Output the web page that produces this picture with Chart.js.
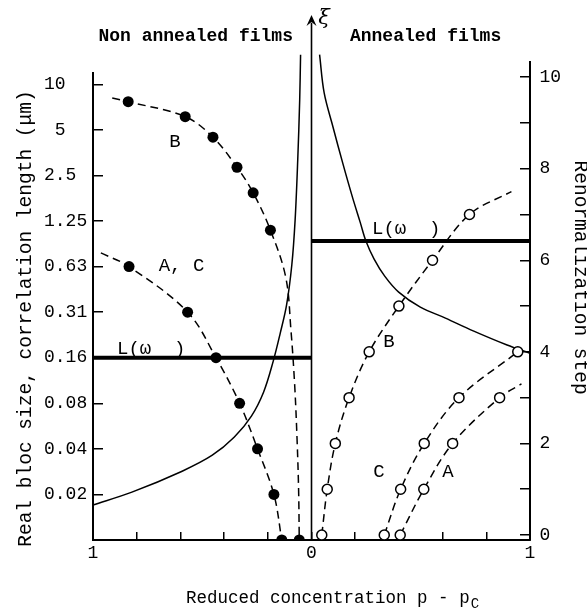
<!DOCTYPE html>
<html>
<head>
<meta charset="utf-8">
<script src="https://cdn.jsdelivr.net/npm/chart.js@4.4.1/dist/chart.umd.min.js"></script>
<style>
  html, body { margin: 0; padding: 0; background: #ffffff; }
  #wrap { width: 587px; height: 613px; }
</style>
</head>
<body>
<div id="wrap"><canvas id="c" width="587" height="613"></canvas></div>
<script>
// ---------- axes / ticks ----------
// x = reduced concentration p - pc (negative side = non annealed films, labelled by |p - pc|)
const xTickValues = [-1, -0.8, -0.6, -0.4, -0.2, 0, 0.2, 0.4, 0.6, 0.8, 1];
const xTickLabels = ['1', '', '', '', '', '0', '', '', '', '', '1'];
// left axis: renormalization step shown as real bloc size (µm)
const leftTickValues = [0, 1, 2, 3, 4, 5, 6, 7, 8, 9, 10];
const leftTickLabels = ['', '0.02', '0.04', '0.08', '0.16', '0.31', '0.63', '1.25', '2.5 ', '5  ', '10  '];
// right axis: renormalization step
const rightTickValues = [0, 1, 2, 3, 4, 5, 6, 7, 8, 9, 10];
const rightTickLabels = ['0', '', '2', '', '4', '', '6', '', '8', '', '10'];

// ---------- non annealed films (left axis, steps) ----------
const nonAnnealedB  = [[-0.839, 9.62], [-0.578, 9.29], [-0.451, 8.84], [-0.341, 8.18], [-0.267, 7.62], [-0.188, 6.80], [-0.056, 0]];
const nonAnnealedAC = [[-0.835, 6], [-0.567, 5], [-0.437, 4], [-0.329, 3], [-0.247, 2], [-0.172, 1], [-0.136, 0]];
const nonAnnealedBStart  = [[-0.912, 9.70]];
const nonAnnealedBTail   = [[-0.118, 5.77], [-0.094, 4.60], [-0.077, 3.40], [-0.066, 2.20], [-0.059, 1.10]];
const nonAnnealedACStart = [[-0.964, 6.30]];
// correlation length xi, non annealed side
const xiNonAnnealed = [[-1.0, 0.77], [-0.822, 1.05], [-0.592, 1.51], [-0.454, 1.86], [-0.353, 2.26], [-0.275, 2.72],
                       [-0.219, 3.25], [-0.176, 3.91], [-0.143, 4.54], [-0.114, 5.16], [-0.090, 6.04], [-0.075, 7.02],
                       [-0.063, 8.34], [-0.054, 9.66], [-0.050, 10.65]];
// length L(omega), non annealed
const lengthNonAnnealed = [[-1, 4], [0, 4]];

// ---------- annealed films (right axis, steps) ----------
const annealedB = [[0.047, 0], [0.072, 1], [0.109, 2], [0.172, 3], [0.264, 4], [0.40, 5], [0.554, 6], [0.723, 7]];
const annealedC = [[0.333, 0], [0.408, 1], [0.516, 2], [0.675, 3], [0.944, 4]];
const annealedA = [[0.406, 0], [0.514, 1], [0.646, 2], [0.861, 3]];
const annealedBEnd = [[0.915, 7.5]];
const annealedAEnd = [[0.961, 3.3]];
// correlation length xi, annealed side (left axis units)
const xiAnnealed = [[0.037, 10.65], [0.058, 9.81], [0.098, 9.07], [0.143, 8.27], [0.187, 7.53], [0.223, 6.97],
                    [0.249, 6.56], [0.286, 6.17], [0.335, 5.79], [0.399, 5.44], [0.498, 5.11], [0.613, 4.87],
                    [0.740, 4.59], [0.895, 4.28], [1.0, 4.10]];
const lengthAnnealed = [[0, 6.56], [1, 6.56]];

// frame: left axis line (starts a little below the top), xi axis at p = pc and its arrow tip
const leftAxisLine = [[-1, 0], [-1, 10.27]];
const xiAxis = [[0, 0], [0, 11.35]];
const xiArrowTip = [0, 11.52];

// ---------- text annotations (data coordinates) ----------
const textMarks = [
  { text: 'B',      x: -0.625, y: 8.74, align: 'center' },
  { text: 'A, C',   x: -0.595, y: 6.01, align: 'center' },
  { text: 'L(ω  )', x: -0.89,  y: 4.19, align: 'left' },
  { text: 'L(ω  )', x: 0.277,  y: 6.83, align: 'left' },
  { text: 'B',      x: 0.355,  y: 4.35, align: 'center' },
  { text: 'C',      x: 0.309,  y: 1.49, align: 'center' },
  { text: 'A',      x: 0.625,  y: 1.49, align: 'center' }
];
const headerMarks = [
  { text: 'Non annealed films', x: -0.085, y: 10.95, align: 'right' },
  { text: 'Annealed films',     x: 0.176,  y: 10.95, align: 'left' }
];
const xiLabel = { text: 'ξ', x: 0.057, y: 11.44 };
const xTitle = { text: 'Reduced concentration p - p', sub: 'C', x: -0.574, y: -1.383 };
const yTitle = 'Real bloc size, correlation length (μm)';
const y2Title = 'Renormalization step';

const P = a => a.map(([x, y]) => ({ x, y }));
const MONO = '"Liberation Mono", "DejaVu Sans Mono", monospace';

const annotations = {
  id: 'annotations',
  afterDraw(chart) {
    const { ctx } = chart;
    const xs = chart.scales.x, ys = chart.scales.y;
    ctx.save();
    ctx.fillStyle = '#000';
    // arrow head of the xi axis
    const ax = xs.getPixelForValue(xiArrowTip[0]);
    const ay = ys.getPixelForValue(xiArrowTip[1]);
    ctx.beginPath();
    ctx.moveTo(ax, ay);
    ctx.lineTo(ax - 5, ay + 11);
    ctx.lineTo(ax, ay + 7);
    ctx.lineTo(ax + 5, ay + 11);
    ctx.closePath();
    ctx.fill();
    // labels
    ctx.textBaseline = 'middle';
    ctx.font = '19px ' + MONO;
    for (const t of textMarks) {
      ctx.textAlign = t.align;
      ctx.fillText(t.text, xs.getPixelForValue(t.x), ys.getPixelForValue(t.y));
    }
    ctx.font = 'italic 21px "DejaVu Serif", serif';
    ctx.textAlign = 'center';
    ctx.fillText(xiLabel.text, xs.getPixelForValue(xiLabel.x), ys.getPixelForValue(xiLabel.y));
    ctx.textBaseline = 'alphabetic';
    ctx.font = 'bold 18px ' + MONO;
    for (const t of headerMarks) {
      ctx.textAlign = t.align;
      ctx.fillText(t.text, xs.getPixelForValue(t.x), ys.getPixelForValue(t.y));
    }
    // x axis title with subscript
    ctx.font = '17.5px ' + MONO;
    ctx.textAlign = 'left';
    const tx = xs.getPixelForValue(xTitle.x), ty = ys.getPixelForValue(xTitle.y);
    ctx.fillText(xTitle.text, tx, ty);
    const w = ctx.measureText(xTitle.text).width;
    ctx.font = '14px ' + MONO;
    ctx.fillText(xTitle.sub, tx + w + 1, ty + 5);
    ctx.restore();
  }
};

const dashed = [8, 5];
const curve = (data, axis, dash, width, tension) => ({
  type: 'scatter', data: P(data), yAxisID: axis, showLine: true, pointRadius: 0,
  borderColor: '#000', borderWidth: width, borderDash: dash, tension: tension,
  order: 2, clip: false
});
const filledDots = (data) => ({
  type: 'scatter', data: P(data), yAxisID: 'y', showLine: false, pointRadius: 5.5,
  pointBackgroundColor: '#000', pointBorderColor: '#000', pointBorderWidth: 0, order: 0
});
const openDots = (data) => ({
  type: 'scatter', data: P(data), yAxisID: 'y2', showLine: false, pointRadius: 5,
  pointBackgroundColor: '#fff', pointBorderColor: '#000', pointBorderWidth: 1.5, order: 0
});

const datasets = [
  filledDots(nonAnnealedB),
  filledDots(nonAnnealedAC),
  openDots(annealedB),
  openDots(annealedC),
  openDots(annealedA),
  curve(nonAnnealedBStart.concat(nonAnnealedB.slice(0, 6), nonAnnealedBTail, nonAnnealedB.slice(6)), 'y', dashed, 1.5, 0.35),
  curve(nonAnnealedACStart.concat(nonAnnealedAC), 'y', dashed, 1.5, 0.35),
  curve(annealedB.concat(annealedBEnd), 'y2', dashed, 1.5, 0.35),
  curve(annealedC, 'y2', dashed, 1.5, 0.35),
  curve(annealedA.concat(annealedAEnd), 'y2', dashed, 1.5, 0.35),
  curve(xiNonAnnealed, 'y', [], 1.5, 0.35),
  curve(xiAnnealed, 'y', [], 1.5, 0.35),
  curve(lengthNonAnnealed, 'y', [], 4, 0),
  curve(lengthAnnealed, 'y', [], 4, 0),
  curve(leftAxisLine, 'y', [], 2, 0),
  curve(xiAxis, 'y', [], 1.6, 0)
];

const tickFont = { family: MONO, size: 18 };
const titleFont = { family: MONO, size: 19.5, lineHeight: 1 };

new Chart(document.getElementById('c'), {
  type: 'scatter',
  data: { datasets },
  plugins: [annotations],
  options: {
    responsive: false,
    animation: false,
    devicePixelRatio: 1,
    layout: { padding: { top: 62, left: 0, right: 0, bottom: 0 } },
    plugins: { legend: { display: false }, tooltip: { enabled: false } },
    scales: {
      x: {
        type: 'linear', position: 'bottom', min: -1, max: 1,
        afterBuildTicks: s => { s.ticks = xTickValues.map(v => ({ value: v })); },
        afterFit: s => { s.height = 73; },
        grid: { drawOnChartArea: false, drawTicks: true, tickLength: -8, color: '#000', lineWidth: 1.5 },
        border: { display: true, color: '#000', width: 2 },
        ticks: { autoSkip: false, maxRotation: 0, padding: 10, color: '#000', font: tickFont,
                 callback: (v, i) => xTickLabels[i] }
      },
      y: {
        type: 'linear', position: 'left', min: 0, max: 10.49,
        afterBuildTicks: s => { s.ticks = leftTickValues.map(v => ({ value: v })); },
        afterFit: s => { s.width = 93; },
        grid: { drawOnChartArea: false, drawTicks: true, tickLength: -10, color: '#000', lineWidth: 1.5 },
        border: { display: false },
        ticks: { autoSkip: false, crossAlign: 'near', padding: 15.8, color: '#000', font: tickFont,
                 callback: (v, i) => leftTickLabels[i] },
        title: { display: true, text: yTitle + '   ', color: '#000', font: titleFont, padding: { top: 16, bottom: 0 } }
      },
      y2: {
        type: 'linear', position: 'right', min: -0.109, max: 10.33,
        afterBuildTicks: s => { s.ticks = rightTickValues.map(v => ({ value: v })); },
        afterFit: s => { s.width = 57; },
        grid: { drawOnChartArea: false, drawTicks: true, tickLength: -10, color: '#000', lineWidth: 1.5 },
        border: { display: true, color: '#000', width: 2 },
        ticks: { autoSkip: false, padding: 19.5, color: '#000', font: tickFont,
                 callback: (v, i) => rightTickLabels[i] },
        title: { display: true, text: y2Title + '    ', color: '#000', font: titleFont, padding: { top: -3, bottom: 0 } }
      }
    }
  }
});
</script>
</body>
</html>
